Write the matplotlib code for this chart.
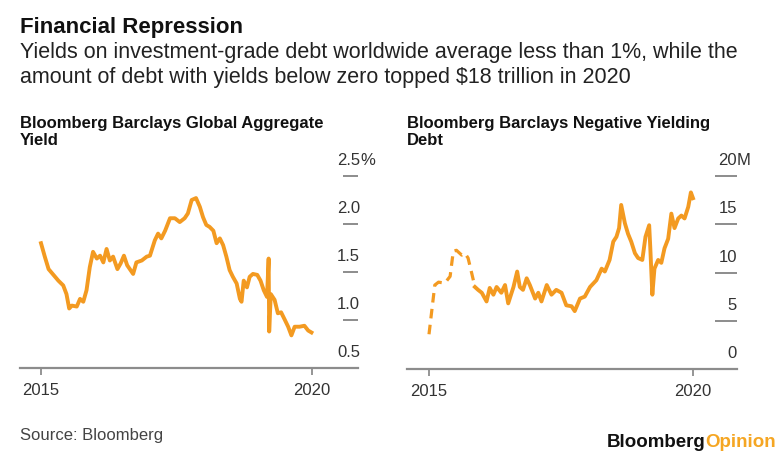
import matplotlib
matplotlib.use('Agg')
from matplotlib import pyplot as plt

plt.rcParams['font.family'] = ['Liberation Sans', 'DejaVu Sans']

ORANGE = '#F39A21'
GREY = '#8c8c8c'

# Global aggregate yield (%)
yield_years = [2015.00, 2015.07, 2015.14, 2015.23, 2015.32, 2015.41, 2015.47, 2015.52, 2015.57, 2015.66,
               2015.72, 2015.78, 2015.84, 2015.90, 2015.96, 2016.03, 2016.09, 2016.15, 2016.21, 2016.27,
               2016.33, 2016.41, 2016.47, 2016.53, 2016.59, 2016.70, 2016.76, 2016.86, 2016.95, 2017.01,
               2017.10, 2017.16, 2017.22, 2017.29, 2017.38, 2017.47, 2017.56, 2017.65, 2017.71, 2017.78,
               2017.86, 2017.93, 2017.99, 2018.05, 2018.11, 2018.18, 2018.24, 2018.30, 2018.36, 2018.42,
               2018.48, 2018.54, 2018.61, 2018.67, 2018.70, 2018.74, 2018.80, 2018.85, 2018.91, 2018.99,
               2019.05, 2019.11, 2019.17, 2019.20, 2019.21, 2019.24, 2019.31, 2019.37, 2019.43, 2019.50,
               2019.56, 2019.62, 2019.68, 2019.77, 2019.86, 2019.93, 2019.99]
yield_values = [1.80, 1.66, 1.53, 1.47, 1.41, 1.36, 1.27, 1.12, 1.15, 1.14,
                1.22, 1.19, 1.31, 1.55, 1.71, 1.64, 1.67, 1.60, 1.74, 1.62,
                1.66, 1.53, 1.59, 1.67, 1.57, 1.48, 1.60, 1.62, 1.66, 1.67,
                1.83, 1.90, 1.85, 1.93, 2.06, 2.06, 2.02, 2.06, 2.11, 2.25,
                2.27, 2.18, 2.07, 1.99, 1.97, 1.93, 1.80, 1.85, 1.78, 1.66,
                1.52, 1.45, 1.38, 1.22, 1.19, 1.41, 1.34, 1.45, 1.48, 1.47,
                1.41, 1.31, 1.24, 1.64, 0.88, 1.27, 1.21, 1.07, 1.08, 1.00,
                0.93, 0.84, 0.93, 0.93, 0.94, 0.89, 0.87]

# Negative yielding debt (trillions), early part is an estimate (dashed)
neg_est_years = [2015.00, 2015.11, 2015.18, 2015.30, 2015.40, 2015.46, 2015.52, 2015.62, 2015.68, 2015.74,
                 2015.81, 2015.87]
neg_est_values = [3.6, 8.7, 9.0, 8.9, 9.6, 12.2, 12.3, 11.8, 12.0, 11.5, 9.9, 8.5]
neg_years = [2015.87, 2015.93, 2016.00, 2016.09, 2016.15, 2016.22, 2016.28, 2016.37, 2016.44, 2016.50,
             2016.60, 2016.67, 2016.72, 2016.78, 2016.85, 2016.91, 2017.01, 2017.07, 2017.13, 2017.23,
             2017.32, 2017.41, 2017.51, 2017.60, 2017.70, 2017.76, 2017.86, 2017.95, 2018.05, 2018.17,
             2018.27, 2018.33, 2018.42, 2018.49, 2018.55, 2018.60, 2018.64, 2018.71, 2018.77, 2018.83,
             2018.90, 2018.96, 2019.04, 2019.10, 2019.17, 2019.19, 2019.23, 2019.27, 2019.34, 2019.40,
             2019.46, 2019.53, 2019.59, 2019.65, 2019.72, 2019.78, 2019.84, 2019.91, 2019.96, 2020.00]
neg_values = [8.5, 8.2, 7.9, 7.0, 8.4, 7.7, 8.5, 7.9, 8.7, 6.8,
              8.5, 10.1, 8.5, 8.2, 9.4, 8.7, 7.3, 7.9, 7.0, 8.7,
              7.7, 8.2, 7.9, 6.6, 6.5, 6.0, 7.3, 7.5, 8.5, 9.2,
              10.4, 10.1, 11.3, 13.2, 13.7, 14.6, 17.0, 15.1, 14.0, 13.2,
              12.0, 11.5, 11.3, 13.7, 14.9, 12.7, 7.7, 10.4, 11.3, 11.0,
              12.5, 13.5, 16.1, 14.6, 15.6, 15.9, 15.6, 16.8, 18.3, 17.7]

yield_ticks = [0.5, 1.0, 1.5, 2.0, 2.5]
debt_ticks = [0, 5, 10, 15, 20]
year_ticks = [2015, 2020]

W, H = 781, 465
fig = plt.figure(figsize=(W / 100, H / 100), dpi=100)


def px_axes(left, right, top, bottom):
    return fig.add_axes([left / W, 1 - bottom / H, (right - left) / W, (bottom - top) / H])


def style_axes(ax, ticks, labels, unit, mark_start, label_x):
    for side in ['top', 'left', 'right']:
        ax.spines[side].set_visible(False)
    ax.spines['bottom'].set_color(GREY)
    ax.spines['bottom'].set_linewidth(1.6)
    ax.set_yticks([])
    ax.set_xticks(year_ticks)
    ax.set_xticklabels([str(y) for y in year_ticks])
    ax.tick_params(axis='x', length=5, width=1.3, color=GREY, labelsize=12,
                   labelcolor='#333333', pad=6)
    trans = ax.get_yaxis_transform()
    ax.hlines(ticks[1:], mark_start, 1.0, transform=trans, color=GREY, lw=1.4, clip_on=False)
    for t, lab in zip(ticks, labels):
        ax.annotate(lab, xy=(label_x, t), xycoords=trans, xytext=(0, 11), textcoords='offset points',
                    ha='right', va='center', fontsize=12, color='#333333', annotation_clip=False)
    ax.annotate(unit, xy=(label_x, ticks[-1]), xycoords=trans, xytext=(0, 11), textcoords='offset points',
                ha='left', va='center', fontsize=12, color='#333333', annotation_clip=False)


ax1 = px_axes(20, 358, 160, 368)
ax1.plot(yield_years, yield_values, color=ORANGE, lw=2.8, solid_joinstyle='round')
ax1.set_xlim(2015 - 21 / 54.2, 2020 + 46 / 54.2)
ax1.set_ylim(0.5, 0.5 + 208 / 96)
style_axes(ax1, yield_ticks, ['0.5', '1.0', '1.5', '2.0', '2.5'], '%', 0.956, 1.006)

ax2 = px_axes(407, 737, 160, 369)
ax2.plot(neg_est_years, neg_est_values, color=ORANGE, lw=2.3, dashes=(3, 2))
ax2.plot(neg_years, neg_values, color=ORANGE, lw=2.8, solid_joinstyle='round')
ax2.set_xlim(2015 - 22 / 52.8, 2020 + 44 / 52.8)
ax2.set_ylim(0, 209 / 9.65)
style_axes(ax2, debt_ticks, ['0', '5', '10', '15', '20'], 'M', 0.933, 1.0)

# headings
fig.text(20 / W, 1 - 33 / H, 'Financial Repression', fontsize=16, fontweight='bold',
         color='#111111', va='baseline')
fig.text(20 / W, 1 - 58 / H, 'Yields on investment-grade debt worldwide average less than 1%, while the',
         fontsize=15.5, color='#222222', va='baseline')
fig.text(20 / W, 1 - 83 / H, 'amount of debt with yields below zero topped $18 trillion in 2020',
         fontsize=15.5, color='#222222', va='baseline')
fig.text(20 / W, 1 - 145 / H, 'Bloomberg Barclays Global Aggregate\nYield', fontsize=12,
         fontweight='bold', color='#111111', va='baseline', linespacing=1.2)
fig.text(407 / W, 1 - 145 / H, 'Bloomberg Barclays Negative Yielding\nDebt', fontsize=12,
         fontweight='bold', color='#111111', va='baseline', linespacing=1.2)

fig.text(20 / W, 1 - 440 / H, 'Source: Bloomberg', fontsize=12, color='#444444', va='baseline')
opinion = fig.text(776 / W, 1 - 447 / H, 'Opinion', fontsize=13.5, fontweight='bold',
                   color='#F5A623', ha='right', va='baseline')
ax2.annotate('Bloomberg', xy=(0, 0), xycoords=opinion, ha='right', va='bottom', fontsize=13.5,
             fontweight='bold', color='#111111', annotation_clip=False)

fig.savefig('out.png', dpi=100)
